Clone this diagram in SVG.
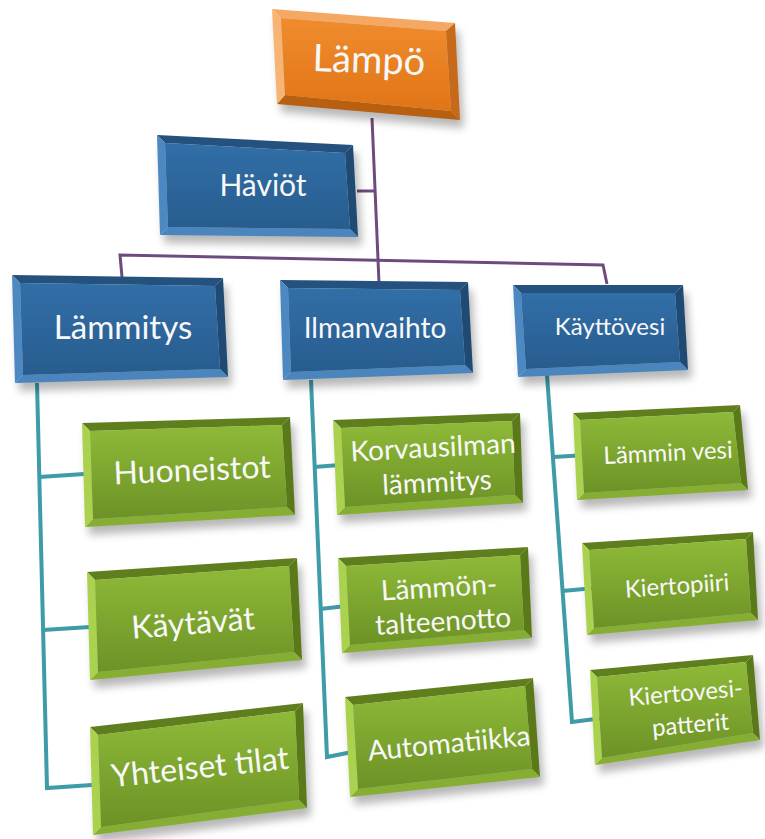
<svg xmlns="http://www.w3.org/2000/svg" width="765" height="839" viewBox="0 0 765 839">
<defs>
<linearGradient id="gO" x1="0" y1="0" x2="0" y2="1"><stop offset="0" stop-color="#F08C2E"/><stop offset="1" stop-color="#E07516"/></linearGradient>
<linearGradient id="gB" x1="0" y1="0" x2="0" y2="1"><stop offset="0" stop-color="#316FA8"/><stop offset="1" stop-color="#285C8E"/></linearGradient>
<linearGradient id="gG" x1="0" y1="0" x2="0" y2="1"><stop offset="0" stop-color="#8FBA38"/><stop offset="1" stop-color="#6C9226"/></linearGradient>
<filter id="blur" x="-20%" y="-20%" width="140%" height="140%"><feGaussianBlur stdDeviation="4"/></filter>
</defs>
<style>
.sh{fill:#000;opacity:.28;filter:url(#blur)}
.orange .f{fill:url(#gO)} .orange .t{fill:#F5A864} .orange .l{fill:#F7B472} .orange .r{fill:#C8691A} .orange .b{fill:#B95F10}
.blue .f{fill:url(#gB)} .blue .t{fill:#24517E} .blue .l{fill:#4C89C2} .blue .r{fill:#1F4A74} .blue .b{fill:#4A85BD}
.green .f{fill:url(#gG)} .green .t{fill:#5F7F1E} .green .l{fill:#AAD24E} .green .r{fill:#5A7A1A} .green .b{fill:#86AE32}
text{font-family:Lato,"Open Sans","Liberation Sans",sans-serif;fill:#F8F8F8;text-anchor:middle}
.cp{fill:none;stroke:#6E4B7E;stroke-width:3}
.ct{fill:none;stroke:#3F9BA8;stroke-width:4}
</style>

<g id="connectors">
<path class="cp" d="M372,118 L379,283"/>
<path class="cp" d="M357,191 L375,191"/>
<path class="cp" d="M122,277 L120,255 L603,265 L607,284"/>
<path class="ct" d="M37,383 L47,788 L92,785"/>
<path class="ct" d="M39,477 L84,474"/>
<path class="ct" d="M43,630 L90,627"/>
<path class="ct" d="M311,380 L327,757 L352,752"/>
<path class="ct" d="M314,467 L340,465"/>
<path class="ct" d="M320,609 L346,606"/>
<path class="ct" d="M547,375 L572,722 L603,718"/>
<path class="ct" d="M553,457 L587,455"/>
<path class="ct" d="M562,591 L595,588"/>
</g>

<g id="lampo" class="orange">
<polygon class="sh" points="276,17 459,31 464,128 281,112"/>
<polygon class="t" points="272,9 455,23 446,31 281,18"/>
<polygon class="r" points="455,23 460,120 451,111 446,31"/>
<polygon class="b" points="460,120 277,104 285,95 451,111"/>
<polygon class="l" points="277,104 272,9 281,18 285,95"/>
<polygon class="f" points="281,18 446,31 451,111 285,95"/>
<text x="369" y="73" font-size="38" transform="rotate(2 369 60)">Lämpö</text>
</g>

<g id="haviot" class="blue">
<polygon class="sh" points="161,143 357,153 362,245 164,243"/>
<polygon class="t" points="157,135 353,145 345,153 165,143"/>
<polygon class="r" points="353,145 358,237 350,229 345,153"/>
<polygon class="b" points="358,237 160,235 168,227 350,229"/>
<polygon class="l" points="160,235 157,135 165,143 168,227"/>
<polygon class="f" points="165,143 345,153 350,229 168,227"/>
<text x="263" y="196" font-size="30">Häviöt</text>
</g>

<g id="lammitys" class="blue">
<polygon class="sh" points="16,283 227,286 232,385 19,391"/>
<polygon class="t" points="12,275 223,278 215,286 20,283"/>
<polygon class="r" points="223,278 228,377 220,369 215,286"/>
<polygon class="b" points="228,377 15,383 23,375 220,369"/>
<polygon class="l" points="15,383 12,275 20,283 23,375"/>
<polygon class="f" points="20,283 215,286 220,369 23,375"/>
<text x="123" y="339" font-size="33">Lämmitys</text>
</g>

<g id="ilmanvaihto" class="blue">
<polygon class="sh" points="284,288 472,290 477,381 287,388"/>
<polygon class="t" points="280,280 468,282 460,290 288,288"/>
<polygon class="r" points="468,282 473,373 465,365 460,290"/>
<polygon class="b" points="473,373 283,380 291,372 465,365"/>
<polygon class="l" points="283,380 280,280 288,288 291,372"/>
<polygon class="f" points="288,288 460,290 465,365 291,372"/>
<text x="375" y="338" font-size="28">Ilmanvaihto</text>
</g>

<g id="kayttovesi" class="blue">
<polygon class="sh" points="517,293 687,293 692,378 522,385"/>
<polygon class="t" points="513,285 683,285 675,293 521,293"/>
<polygon class="r" points="683,285 688,370 680,362 675,293"/>
<polygon class="b" points="688,370 518,377 526,369 680,362"/>
<polygon class="l" points="518,377 513,285 521,293 526,369"/>
<polygon class="f" points="521,293 675,293 680,362 526,369"/>
<text x="610" y="335" font-size="24">Käyttövesi</text>
</g>

<g id="huoneistot" class="green">
<polygon class="sh" points="86,431 294,425 299,523 89,535"/>
<polygon class="t" points="82,423 290,417 282,425 90,431"/>
<polygon class="r" points="290,417 295,515 287,507 282,425"/>
<polygon class="b" points="295,515 85,527 93,519 287,507"/>
<polygon class="l" points="85,527 82,423 90,431 93,519"/>
<polygon class="f" points="90,431 282,425 287,507 93,519"/>
<text x="192" y="481" font-size="32" transform="rotate(-2.5 192 470)">Huoneistot</text>
</g>

<g id="kaytavat" class="green">
<polygon class="sh" points="91,580 301,566 306,668 94,688"/>
<polygon class="t" points="87,572 297,558 289,566 95,580"/>
<polygon class="r" points="297,558 302,660 294,652 289,566"/>
<polygon class="b" points="302,660 90,680 98,672 294,652"/>
<polygon class="l" points="90,680 87,572 95,580 98,672"/>
<polygon class="f" points="95,580 289,566 294,652 98,672"/>
<text x="193" y="634" font-size="32" transform="rotate(-4.5 193 623)">Käytävät</text>
</g>

<g id="yhteiset" class="green">
<polygon class="sh" points="94,735 307,711 311,816 97,843"/>
<polygon class="t" points="90,727 303,703 295,711 98,735"/>
<polygon class="r" points="303,703 307,808 299,800 295,711"/>
<polygon class="b" points="307,808 93,835 101,827 299,800"/>
<polygon class="l" points="93,835 90,727 98,735 101,827"/>
<polygon class="f" points="98,735 295,711 299,800 101,827"/>
<text x="200" y="778" font-size="32" transform="rotate(-6 200 767)">Yhteiset tilat</text>
</g>

<g id="korvausilman" class="green">
<polygon class="sh" points="337,428 524,421 527,511 341,523"/>
<polygon class="t" points="333,420 520,413 512,421 341,428"/>
<polygon class="r" points="520,413 523,503 515,495 512,421"/>
<polygon class="b" points="523,503 337,515 345,507 515,495"/>
<polygon class="l" points="337,515 333,420 341,428 345,507"/>
<polygon class="f" points="341,428 512,421 515,495 345,507"/>
<g transform="rotate(-3 435 465)">
<text x="434" y="457" font-size="28">Korvausilman</text>
<text x="436" y="492" font-size="28">lämmitys</text>
</g>
</g>

<g id="lammon" class="green">
<polygon class="sh" points="342,566 532,555 536,646 346,661"/>
<polygon class="t" points="338,558 528,547 520,555 346,566"/>
<polygon class="r" points="528,547 532,638 524,630 520,555"/>
<polygon class="b" points="532,638 342,653 350,645 524,630"/>
<polygon class="l" points="342,653 338,558 346,566 350,645"/>
<polygon class="f" points="346,566 520,555 524,630 350,645"/>
<g transform="rotate(-3.5 441 603)">
<text x="440" y="597" font-size="28">Lämmön-</text>
<text x="442" y="631" font-size="28">talteenotto</text>
</g>
</g>

<g id="automatiikka" class="green">
<polygon class="sh" points="349,705 537,686 544,785 354,805"/>
<polygon class="t" points="345,697 533,678 525,686 353,705"/>
<polygon class="r" points="533,678 540,777 532,769 525,686"/>
<polygon class="b" points="540,777 350,797 358,789 532,769"/>
<polygon class="l" points="350,797 345,697 353,705 358,789"/>
<polygon class="f" points="353,705 525,686 532,769 358,789"/>
<text x="449" y="753" font-size="28" transform="rotate(-5.5 449 743)">Automatiikka</text>
</g>

<g id="lamminvesi" class="green">
<polygon class="sh" points="577,421 744,413 752,498 581,508"/>
<polygon class="t" points="573,413 740,405 733,412 580,420"/>
<polygon class="r" points="740,405 748,490 741,483 733,412"/>
<polygon class="b" points="748,490 577,500 584,493 741,483"/>
<polygon class="l" points="577,500 573,413 580,420 584,493"/>
<polygon class="f" points="580,420 733,412 741,483 584,493"/>
<text x="668" y="461" font-size="24" transform="rotate(-2.7 668 452)">Lämmin vesi</text>
</g>

<g id="kiertopiiri" class="green">
<polygon class="sh" points="586,551 757,540 762,628 591,643"/>
<polygon class="t" points="582,543 753,532 746,539 589,550"/>
<polygon class="r" points="753,532 758,620 751,613 746,539"/>
<polygon class="b" points="758,620 587,635 594,628 751,613"/>
<polygon class="l" points="587,635 582,543 589,550 594,628"/>
<polygon class="f" points="589,550 746,539 751,613 594,628"/>
<text x="677" y="594" font-size="24" transform="rotate(-4 677 585)">Kiertopiiri</text>
</g>

<g id="kiertovesi" class="green">
<polygon class="sh" points="594,678 757,663 764,748 599,773"/>
<polygon class="t" points="590,670 753,655 746,662 597,677"/>
<polygon class="r" points="753,655 760,740 753,733 746,662"/>
<polygon class="b" points="760,740 595,765 602,758 753,733"/>
<polygon class="l" points="595,765 590,670 597,677 602,758"/>
<polygon class="f" points="597,677 746,662 753,733 602,758"/>
<g transform="rotate(-5 688 708)">
<text x="687" y="701" font-size="24">Kiertovesi-</text>
<text x="689" y="733" font-size="24">patterit</text>
</g>
</g>
</svg>
